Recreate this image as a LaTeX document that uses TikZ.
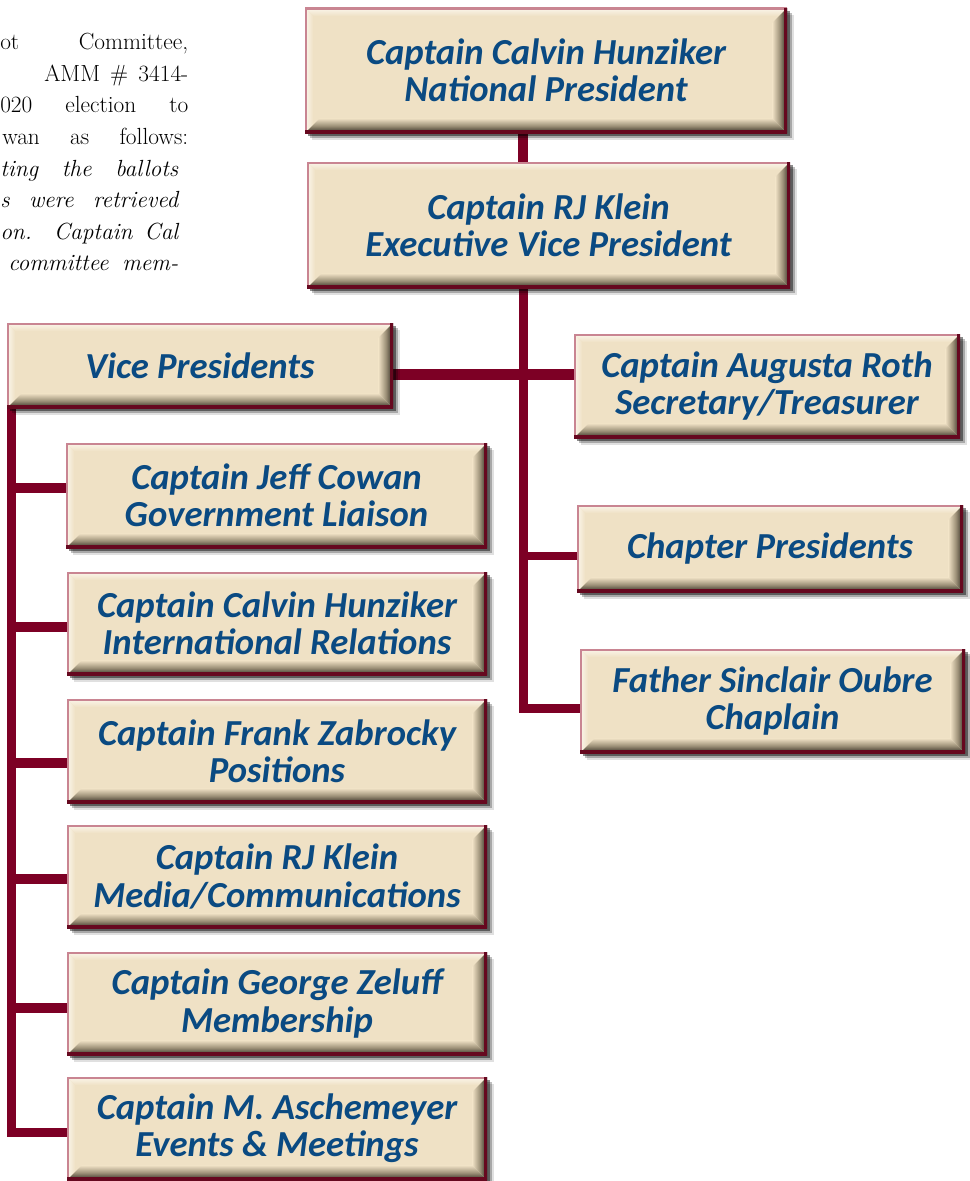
\documentclass[tikz,border=0pt]{standalone}
\usepackage{fontspec}
\newfontfamily\carlito{Carlito}
\usetikzlibrary{calc,shadows}
\definecolor{face}{HTML}{EFE1C5}
\definecolor{hilite}{HTML}{FBF6EC}
\definecolor{bevdark}{HTML}{2E281E}
\definecolor{bevmid}{HTML}{9E9279}
\definecolor{bordark}{HTML}{66081F}
\definecolor{borlight}{HTML}{C98592}
\definecolor{linered}{HTML}{7D0025}
\definecolor{txtblue}{HTML}{0A4A82}
\pgfdeclarelayer{bg}\pgfsetlayers{bg,main}
\tikzset{
  orgbox/.style 2 args={rectangle, inner sep=0pt,
    minimum width={#1*0.75pt}, minimum height={#2*0.75pt},
    fill=face, align=center, text=txtblue,
    font=\carlito\bfseries\itshape\fontsize{27.5}{28}\selectfont,
    drop shadow={shadow xshift=2.5pt, shadow yshift=-2.5pt, opacity=.45, fill=black},
    drop shadow={shadow xshift=4pt, shadow yshift=-4pt, opacity=.25, fill=black},
    drop shadow={shadow xshift=5.5pt, shadow yshift=-5.5pt, opacity=.12, fill=black},
    path picture={
      \coordinate (pa) at (path picture bounding box.south west);
      \coordinate (pb) at (path picture bounding box.north east);
      \shade[top color=hilite, bottom color=face]
        (pa |- pb) -- (pb) -- ($(pb)+(-6pt,-6pt)$) -- ($(pa |- pb)+(6pt,-6pt)$) -- cycle;
      \shade[left color=hilite, right color=face]
        (pa) -- (pa |- pb) -- ($(pa |- pb)+(6pt,-6pt)$) -- ($(pa)+(6pt,6pt)$) -- cycle;
      \shade[top color=face, bottom color=bevdark, middle color=bevmid]
        (pa) -- (pa -| pb) -- ($(pa -| pb)+(-11pt,11pt)$) -- ($(pa)+(11pt,11pt)$) -- cycle;
      \shade[left color=face, right color=bevdark, middle color=bevmid]
        (pa -| pb) -- (pb) -- ($(pb)+(-11pt,-11pt)$) -- ($(pa -| pb)+(-11pt,11pt)$) -- cycle;
      \draw[borlight, line width=2.6pt] (pa) -- (pa |- pb) -- (pb);
      \draw[bordark, line width=4pt] (pa) -- (pa -| pb) -- (pb);
    }},
  conn/.style={draw=linered, line width=#1,
    preaction={draw=black, opacity=.3, transform canvas={shift={(2pt,-2pt)}}}},
  bodytxt/.style={anchor=base west, inner sep=0pt, font=\fontsize{17.5}{23.5}\selectfont}
}
\begin{document}
\begin{tikzpicture}[x=0.75pt, y=-0.75pt]
\useasboundingbox (0,0) rectangle (970,1181);
\clip (0,0) rectangle (970,1181);

% cropped body text
\node[bodytxt] (t1) at (0,50)     {\makebox[141pt][s]{ot Committee,}};
\node[bodytxt] (t2) at (44,81.5)  {\makebox[108pt][s]{AMM \# 3414-}};
\node[bodytxt] (t3) at (0,113)    {\makebox[141pt][s]{020 election to}};
\node[bodytxt] (t4) at (2,144.5)  {\makebox[139.5pt][s]{wan as follows:}};
\node[bodytxt] (t5) at (0,176)    {\makebox[133.5pt][s]{\itshape ting the ballots}};
\node[bodytxt] (t6) at (0,207.5)  {\makebox[133.5pt][s]{\itshape s were retrieved}};
\node[bodytxt] (t7) at (0,239)    {\makebox[133.5pt][s]{\itshape on. Captain Cal}};
\node[bodytxt] (t8) at (8,270.5)  {\makebox[127.5pt][s]{\itshape committee mem-}};

% boxes
\node[orgbox={482}{125}] (NP)  at (546,70.5)   {Captain Calvin Hunziker\\National President};
\node[orgbox={483}{126}] (EVP) at (548.5,225)  {Captain RJ Klein\\Executive Vice President};
\node[orgbox={386}{85}]  (VP)  at (200,365.5)  {Vice Presidents};
\node[orgbox={386}{104}] (SEC) at (767,386)    {Captain Augusta Roth\\Secretary/Treasurer};
\node[orgbox={386}{87}]  (CHP) at (770,548.5)  {Chapter Presidents};
\node[orgbox={385}{104}] (CHL) at (772.5,701)  {Father Sinclair Oubre\\Chaplain};
\node[orgbox={421}{105}] (GOV) at (276.5,495.5){Captain Jeff Cowan\\Government Liaison};
\node[orgbox={420}{103}] (INT) at (277,623.5)  {Captain Calvin Hunziker\\International Relations};
\node[orgbox={420}{104}] (POS) at (277,751)    {Captain Frank Zabrocky\\Positions};
\node[orgbox={420}{103}] (MED) at (277,876.5)  {Captain RJ Klein\\Media/Communications};
\node[orgbox={420}{103}] (MEM) at (277,1003.5) {Captain George Zeluff\\Membership};
\node[orgbox={420}{103}] (EVT) at (277,1128.5) {Captain M. Aschemeyer\\Events \& Meetings};

% connectors
\begin{pgfonlayer}{bg}
\coordinate (tx)  at (523,0);
\coordinate (jvp) at (523,374);
\coordinate (jch) at (523,556);
\coordinate (jcl) at (523,708);
\coordinate (bx)  at (11,0);
\coordinate (b1)  at (11,488);
\coordinate (b2)  at (11,627);
\coordinate (b3)  at (11,763);
\coordinate (b4)  at (11,879);
\coordinate (b5)  at (11,1008);
\coordinate (b6)  at (11,1132);
\draw[conn=7.5pt]  (NP.south -| tx) -- (EVP.north -| tx);
\draw[conn=6.75pt] (EVP.south -| tx) -- (jcl) -- (CHL.west |- jcl);
\draw[conn=8.25pt] (VP.east |- jvp) -- (SEC.west |- jvp);
\draw[conn=6pt]    (jch) -- (CHP.west |- jch);
\draw[conn=6.75pt] (VP.south -| bx) -- (b6) -- (EVT.west |- b6);
\draw[conn=7.5pt]  (b1) -- (GOV.west |- b1);
\draw[conn=7.5pt]  (b2) -- (INT.west |- b2);
\draw[conn=7.5pt]  (b3) -- (POS.west |- b3);
\draw[conn=7.5pt]  (b4) -- (MED.west |- b4);
\draw[conn=7.5pt]  (b5) -- (MEM.west |- b5);
\end{pgfonlayer}
\end{tikzpicture}
\end{document}
